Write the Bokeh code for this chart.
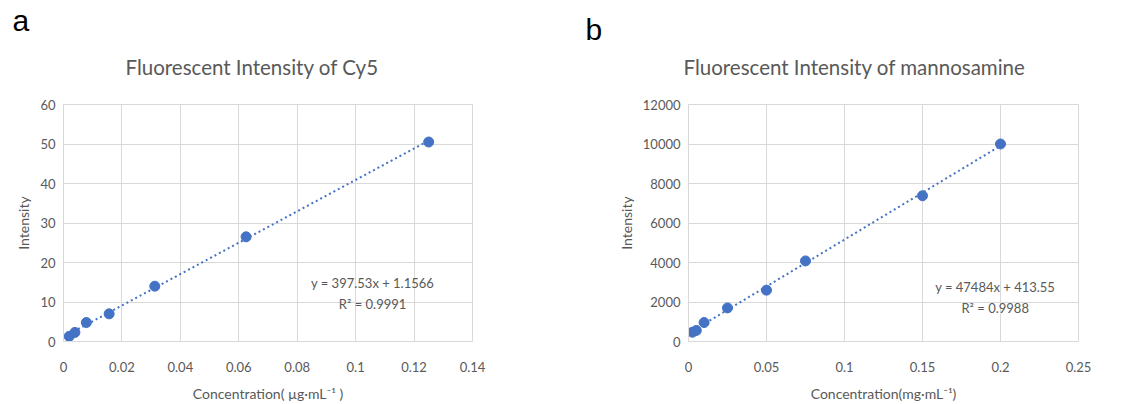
from bokeh.plotting import figure
from bokeh.layouts import row, column
from bokeh.models import FixedTicker, Range1d
from bokeh.core.properties import value
from bokeh.embed import file_html
from bokeh.resources import INLINE

# ---- data: panel a (Cy5) ----
cy5_conc = [0.001953, 0.003906, 0.0078125, 0.015625, 0.03125, 0.0625, 0.125]
cy5_int = [1.3, 2.3, 4.8, 7.0, 14.0, 26.5, 50.5]
cy5_slope, cy5_icpt = 397.53, 1.1566
cy5_eq = ["y = 397.53x + 1.1566", "R² = 0.9991"]
cy5_xticks = [0, 0.02, 0.04, 0.06, 0.08, 0.1, 0.12, 0.14]
cy5_xlabels = ["0", "0.02", "0.04", "0.06", "0.08", "0.1", "0.12", "0.14"]
cy5_yticks = [0, 10, 20, 30, 40, 50, 60]

# ---- data: panel b (mannosamine) ----
man_conc = [0.0025, 0.005, 0.01, 0.025, 0.05, 0.075, 0.15, 0.2]
man_int = [470, 560, 960, 1700, 2600, 4080, 7380, 10000]
man_slope, man_icpt = 47484, 413.55
man_eq = ["y = 47484x + 413.55", "R² = 0.9988"]
man_xticks = [0, 0.05, 0.1, 0.15, 0.2, 0.25]
man_xlabels = ["0", "0.05", "0.1", "0.15", "0.2", "0.25"]
man_yticks = [0, 2000, 4000, 6000, 8000, 10000, 12000]

titles = ["Fluorescent Intensity of Cy5", "Fluorescent Intensity of mannosamine"]
letters = ["a", "b"]

BLUE = "#4472C4"
GRID = "#D9D9D9"
TXT = "#595959"
FONT = "Lato"

# ---- header strip with panel letters and chart titles ----
head = figure(width=1128, height=96, output_backend="svg", toolbar_location=None,
              x_range=Range1d(0, 1128), y_range=Range1d(96, 0),
              x_axis_location=None, y_axis_location=None,
              min_border_left=0, min_border_right=0, min_border_top=0, min_border_bottom=0)
head.grid.visible = False
head.outline_line_color = None
head.text(x=[12, 585], y=[20, 29], text=letters, text_font=value("Liberation Sans"),
          text_font_size="30px", text_color="black", text_baseline="alphabetic")
head.text(x=[125, 683], y=[66, 66], text=titles, text_font=value(FONT),
          text_font_size="20.5px", text_color=TXT, text_baseline="alphabetic")


def make(conc, inten, slope, icpt, eq, eq_pos, xticks, xlabels, yticks,
         xr, yr, xlabel, bl, br):
    p = figure(width=564, height=308, output_backend="svg", toolbar_location=None,
               x_range=xr, y_range=yr, min_border_left=bl, min_border_right=br,
               min_border_top=8, min_border_bottom=60)
    p.outline_line_color = GRID
    for ax in (p.xaxis[0], p.yaxis[0]):
        ax.axis_line_color = GRID
        ax.major_tick_line_color = None
        ax.minor_tick_line_color = None
        ax.major_tick_out = 0
        ax.major_tick_in = 0
        ax.minor_tick_out = 0
        ax.major_label_text_font = FONT
        ax.major_label_text_font_size = "13px"
        ax.major_label_text_color = TXT
        ax.axis_label_text_font = FONT
        ax.axis_label_text_font_size = "14px"
        ax.axis_label_text_font_style = "normal"
        ax.axis_label_text_color = TXT
    p.xaxis.ticker = FixedTicker(ticks=xticks)
    p.xaxis.major_label_overrides = {t: l for t, l in zip(xticks, xlabels)}
    p.yaxis.ticker = FixedTicker(ticks=yticks)
    p.xaxis.axis_label = xlabel
    p.yaxis.axis_label = "Intensity"
    p.xaxis.major_label_standoff = 20
    p.xaxis.axis_label_standoff = 10
    p.yaxis.major_label_standoff = 8
    p.yaxis.axis_label_standoff = 5
    p.xgrid.grid_line_color = GRID
    p.ygrid.grid_line_color = GRID
    p.xgrid.ticker = FixedTicker(ticks=xticks)
    p.ygrid.ticker = FixedTicker(ticks=yticks)

    lx = [min(conc), max(conc)]
    ly = [slope * v + icpt for v in lx]
    p.line(lx, ly, line_color=BLUE, line_width=2, line_dash="2 3")
    p.scatter(conc, inten, size=10, color=BLUE)

    p.text(x=[eq_pos[0], eq_pos[0]], y=[eq_pos[1], eq_pos[2]], text=eq,
           text_align="center", text_baseline="middle", text_font_size="13px",
           text_color=TXT, text_font=value(FONT))
    return p


p1 = make(cy5_conc, cy5_int, cy5_slope, cy5_icpt,
          cy5_eq, (0.1058, 14.8, 9.6), cy5_xticks, cy5_xlabels, cy5_yticks,
          (0, 0.14), (0, 60), "Concentration( µg·mL⁻¹ )", 63, 92)
p2 = make(man_conc, man_int, man_slope, man_icpt,
          man_eq, (0.1966, 2765, 1715), man_xticks, man_xlabels, man_yticks,
          (0, 0.25), (0, 12000), "Concentration(mg·mL⁻¹)", 124, 50)

layout = column(head, row(p1, p2))
open("out.html", "w").write(file_html(layout, INLINE))
